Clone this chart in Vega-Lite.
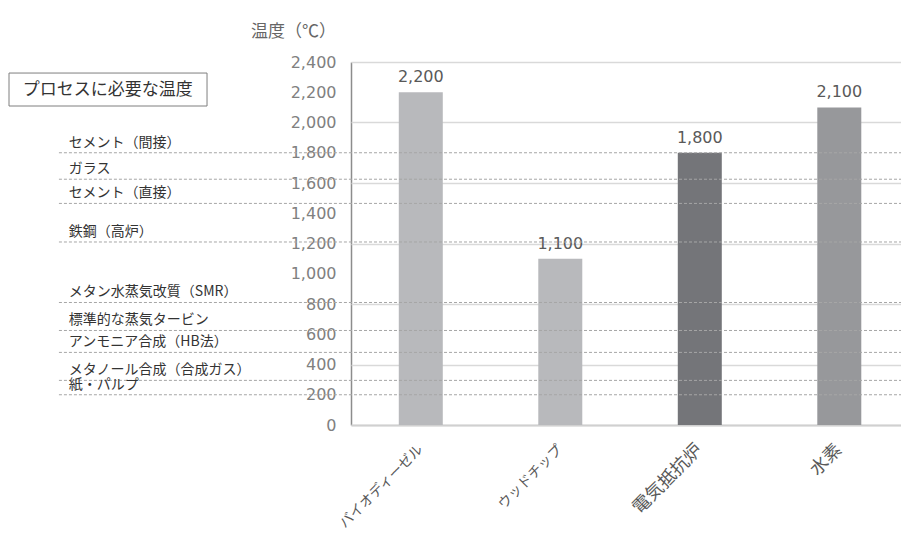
{
  "$schema": "https://vega.github.io/schema/vega-lite/v6.json",
  "padding": {"left": 8, "top": 22, "right": 0, "bottom": 0},
  "bounds": "flush",
  "spacing": 0,
  "config": {
    "view": {"stroke": null},
    "font": "DejaVu Sans",
    "axisRight": {
      "labelOverlap": false,
      "grid": false,
      "ticks": false,
      "labelAlign": "right",
      "labelBaseline": "middle",
      "labelPadding": -15,
      "labelFont": "DejaVu Sans",
      "labelFontSize": 16,
      "labelColor": "#808080",
      "domainColor": "#8c8c8c",
      "domainWidth": 1.5,
      "minExtent": 0,
      "titleFont": "Noto Sans CJK JP",
      "titleFontSize": 17,
      "titleFontWeight": "normal",
      "titleColor": "#666666",
      "titleAngle": 0,
      "titleAlign": "center",
      "titleBaseline": "middle",
      "titleX": -58,
      "titleY": -31
    }
  },
  "datasets": {
    "processes": [
      {"process": "セメント（間接）", "temp": 1800},
      {"process": "ガラス", "temp": 1625},
      {"process": "セメント（直接）", "temp": 1465},
      {"process": "鉄鋼（高炉）", "temp": 1210},
      {"process": "メタン水蒸気改質（SMR）", "temp": 810},
      {"process": "標準的な蒸気タービン", "temp": 625},
      {"process": "アンモニア合成（HB法）", "temp": 480},
      {"process": "メタノール合成（合成ガス）", "temp": 295},
      {"process": "紙・パルプ", "temp": 200}
    ],
    "sources": [
      {"source": "バイオディーゼル", "temp": 2200},
      {"source": "ウッドチップ", "temp": 1100},
      {"source": "電気抵抗炉", "temp": 1800},
      {"source": "水素", "temp": 2100}
    ]
  },
  "resolve": {"scale": {"x": "independent", "y": "independent"}},
  "hconcat": [
    {
      "width": 342,
      "height": 363,
      "layer": [
        {
          "data": {"name": "processes"},
          "mark": {"type": "rule", "color": "#a6a6a6", "strokeWidth": 1, "strokeDash": [3, 2]},
          "encoding": {
            "x": {"datum": 14.6, "type": "quantitative", "scale": {"domain": [0, 100]}, "axis": null},
            "x2": {"datum": 100},
            "y": {
              "field": "temp",
              "type": "quantitative",
              "scale": {"domain": [0, 2400], "nice": false},
              "axis": {
                "orient": "right",
                "values": [0, 200, 400, 600, 800, 1000, 1200, 1400, 1600, 1800, 2000, 2200, 2400],
                "labelExpr": "format(datum.value, ',')",
                "labelOverlap": false,
                "title": "温度（℃）"
              }
            }
          }
        },
        {
          "data": {"name": "processes"},
          "mark": {
            "type": "text",
            "align": "left",
            "baseline": "bottom",
            "dy": -3,
            "font": "Noto Sans CJK JP",
            "fontSize": 14,
            "color": "#333333"
          },
          "encoding": {
            "x": {"datum": 17.5, "type": "quantitative", "axis": null},
            "y": {
              "field": "temp",
              "type": "quantitative",
              "axis": {
                "orient": "right",
                "values": [0, 200, 400, 600, 800, 1000, 1200, 1400, 1600, 1800, 2000, 2200, 2400],
                "labelExpr": "format(datum.value, ',')",
                "labelOverlap": false,
                "title": "温度（℃）"
              }
            },
            "text": {"field": "process"}
          }
        },
        {
          "data": {"values": [{"label": "プロセスに必要な温度"}]},
          "mark": {"type": "rect", "fill": "#ffffff", "stroke": "#7f7f7f", "strokeWidth": 1},
          "encoding": {
            "x": {"datum": 0, "type": "quantitative", "axis": null},
            "x2": {"datum": 57.9},
            "y": {
              "datum": 2327,
              "type": "quantitative",
              "axis": {
                "orient": "right",
                "values": [0, 200, 400, 600, 800, 1000, 1200, 1400, 1600, 1800, 2000, 2200, 2400],
                "labelExpr": "format(datum.value, ',')",
                "labelOverlap": false,
                "title": "温度（℃）"
              }
            },
            "y2": {"datum": 2109}
          }
        },
        {
          "data": {"values": [{"label": "プロセスに必要な温度"}]},
          "mark": {
            "type": "text",
            "align": "center",
            "baseline": "middle",
            "font": "Noto Sans CJK JP",
            "fontSize": 17,
            "color": "#333333"
          },
          "encoding": {
            "x": {"datum": 28.9, "type": "quantitative", "axis": null},
            "y": {
              "datum": 2218,
              "type": "quantitative",
              "axis": {
                "orient": "right",
                "values": [0, 200, 400, 600, 800, 1000, 1200, 1400, 1600, 1800, 2000, 2200, 2400],
                "labelExpr": "format(datum.value, ',')",
                "labelOverlap": false,
                "title": "温度（℃）"
              }
            },
            "text": {"field": "label"}
          }
        }
      ]
    },
    {
      "width": 551,
      "height": 363,
      "layer": [
        {
          "data": {"name": "sources"},
          "mark": {"type": "bar"},
          "encoding": {
            "x": {
              "field": "source",
              "type": "nominal",
              "sort": null,
              "scale": {"paddingInner": 0.6846, "paddingOuter": 0.3172, "align": 0.54},
              "axis": {
                "title": null,
                "ticks": false,
                "labelAngle": -45,
                "labelAlign": "right",
                "labelBaseline": "middle",
                "labelPadding": 22,
                "labelFont": "Noto Sans CJK JP",
                "labelFontSize": {
                  "condition": {"test": "datum.value == 'バイオディーゼル' || datum.value == 'ウッドチップ'", "value": 14},
                  "value": 18
                },
                "labelColor": "#595959",
                "domainColor": "#d0d0d0",
                "domainWidth": 2
              }
            },
            "y": {
              "field": "temp",
              "type": "quantitative",
              "scale": {"domain": [0, 2400], "nice": false},
              "axis": {
                "values": [0, 200, 400, 600, 800, 1000, 1200, 1400, 1600, 1800, 2000, 2200, 2400],
                "grid": true,
                "gridColor": "#d9d9d9",
                "gridWidth": 1.5,
                "labels": false,
                "ticks": false,
                "domain": false,
                "title": null,
                "minExtent": 0
              }
            },
            "color": {
              "field": "source",
              "type": "nominal",
              "scale": {
                "domain": ["バイオディーゼル", "ウッドチップ", "電気抵抗炉", "水素"],
                "range": ["#b8b9bc", "#b8b9bc", "#747579", "#97989b"]
              },
              "legend": null
            }
          }
        },
        {
          "data": {"name": "sources"},
          "mark": {
            "type": "text",
            "baseline": "bottom",
            "dy": -7,
            "font": "DejaVu Sans",
            "fontSize": 16,
            "color": "#595959"
          },
          "encoding": {
            "x": {"field": "source", "type": "nominal", "sort": null},
            "y": {"field": "temp", "type": "quantitative"},
            "text": {"field": "temp", "type": "quantitative", "format": ","}
          }
        },
        {
          "data": {"name": "processes"},
          "mark": {"type": "rule", "color": "#a6a6a6", "strokeWidth": 1, "strokeDash": [3, 2]},
          "encoding": {
            "y": {"field": "temp", "type": "quantitative"}
          }
        }
      ]
    }
  ]
}
